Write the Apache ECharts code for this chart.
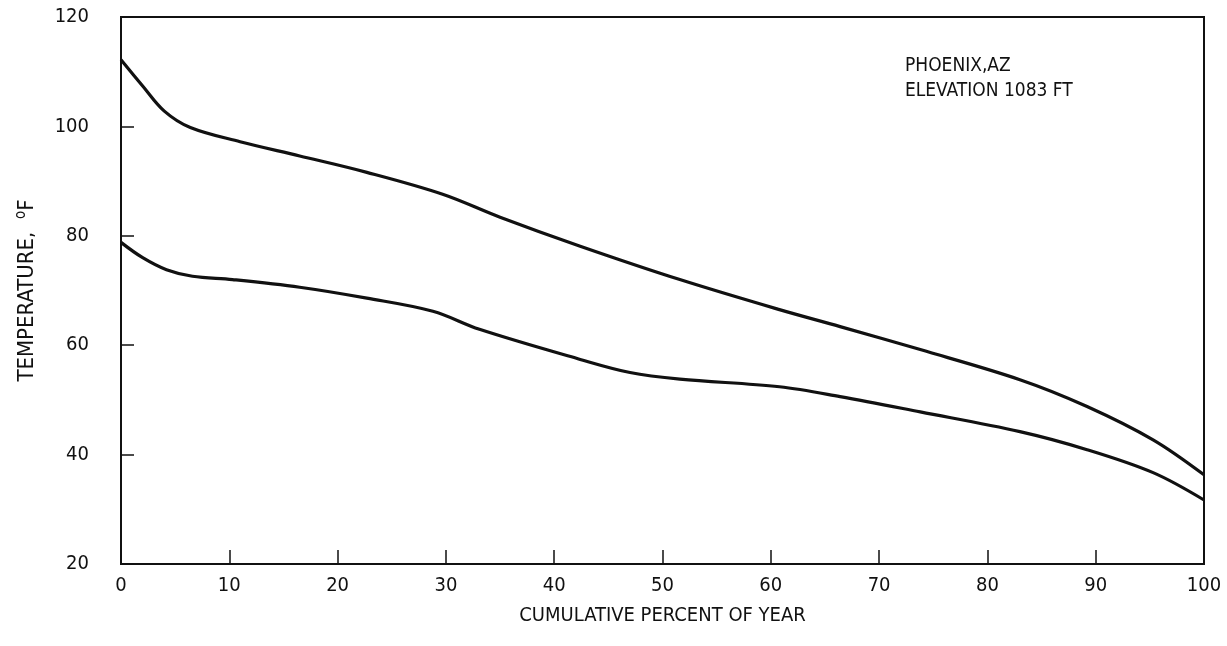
<!DOCTYPE html>
<html>
<head>
<meta charset="utf-8">
<script src="https://cdn.jsdelivr.net/npm/echarts@6/dist/echarts.min.js"></script>
<style>
  html, body { margin: 0; padding: 0; background: #fff; }
  #chart { width: 1227px; height: 646px; }
</style>
</head>
<body>
<div id="chart"></div>
<script>
// Phoenix temperature duration curves.
const pctUpper = [0, 2, 4, 6.4, 11, 16.5, 22.7, 29.7, 35, 42.4, 51.6, 60.8, 66.4, 73.8, 83, 89.2, 95.3, 100]
const tempUpper = [112.2, 107.4, 102.8, 99.8, 97.2, 94.6, 91.6, 87.6, 83.4, 78.1, 72.0, 66.5, 63.4, 59.2, 53.7, 48.8, 42.7, 36.3]

const pctLower = [0, 2, 4.2, 6.6, 10.3, 16.5, 22.7, 28.8, 33.1, 42.4, 47, 51.6, 60.8, 66.4, 73.8, 83, 89.2, 95.3, 100]
const tempLower = [78.8, 76.0, 73.8, 72.6, 72.0, 70.6, 68.6, 66.2, 62.9, 57.4, 55.0, 53.8, 52.4, 50.6, 47.8, 44.2, 40.9, 36.7, 31.7]

const xTicks = [0, 10, 20, 30, 40, 50, 60, 70, 80, 90, 100]
const yTicks = [20, 40, 60, 80, 100, 120]

const INK = "#111"
const FONT = "'Liberation Sans Narrow', 'DejaVu Sans Condensed', sans-serif"

const pairs = (xs, ys) => xs.map((x, i) => [x, ys[i]])

const curve = (name, data) => ({
  name,
  type: "line",
  data,
  smooth: 0.35,
  showSymbol: false,
  silent: true,
  lineStyle: {color: INK, width: 3.2},
})

const chart = echarts.init(document.getElementById("chart"), null, {renderer: "canvas"})

chart.setOption({
  animation: false,
  backgroundColor: "#fff",
  textStyle: {fontFamily: FONT, color: INK},
  grid: {
    left: 121, right: 23, top: 17, bottom: 82,
    show: true, borderColor: INK, borderWidth: 2, backgroundColor: "transparent",
  },
  xAxis: {
    type: "value",
    min: xTicks[0], max: xTicks[xTicks.length - 1], interval: 10,
    name: "CUMULATIVE PERCENT OF YEAR",
    nameLocation: "middle", nameGap: 42,
    nameTextStyle: {fontFamily: FONT, fontSize: 20, color: INK},
    axisLine: {show: false},
    axisTick: {show: true, inside: true, length: 14, lineStyle: {color: INK, width: 1.5}},
    axisLabel: {fontFamily: FONT, fontSize: 20, color: INK, margin: 12},
    splitLine: {show: false},
  },
  yAxis: {
    type: "value",
    min: yTicks[0], max: yTicks[yTicks.length - 1], interval: 20,
    name: "TEMPERATURE,  {sup|o}F",
    nameLocation: "middle", nameGap: 80, nameRotate: 90,
    nameTextStyle: {
      fontFamily: FONT, fontSize: 22, color: INK,
      rich: {sup: {fontFamily: FONT, fontSize: 15, color: INK, verticalAlign: "top", padding: [0, 0, 12, 0]}},
    },
    axisLine: {show: false},
    axisTick: {show: true, inside: true, length: 13, lineStyle: {color: INK, width: 1.5}},
    axisLabel: {fontFamily: FONT, fontSize: 20, color: INK, margin: 32},
    splitLine: {show: false},
  },
  graphic: [{
    type: "text",
    left: 905, top: 54,
    style: {
      text: "PHOENIX,AZ\nELEVATION 1083 FT",
      fontFamily: FONT, fontSize: 19, lineHeight: 25, fill: INK,
    },
  }],
  series: [
    curve("upper", pairs(pctUpper, tempUpper)),
    curve("lower", pairs(pctLower, tempLower)),
  ],
})
</script>
</body>
</html>
